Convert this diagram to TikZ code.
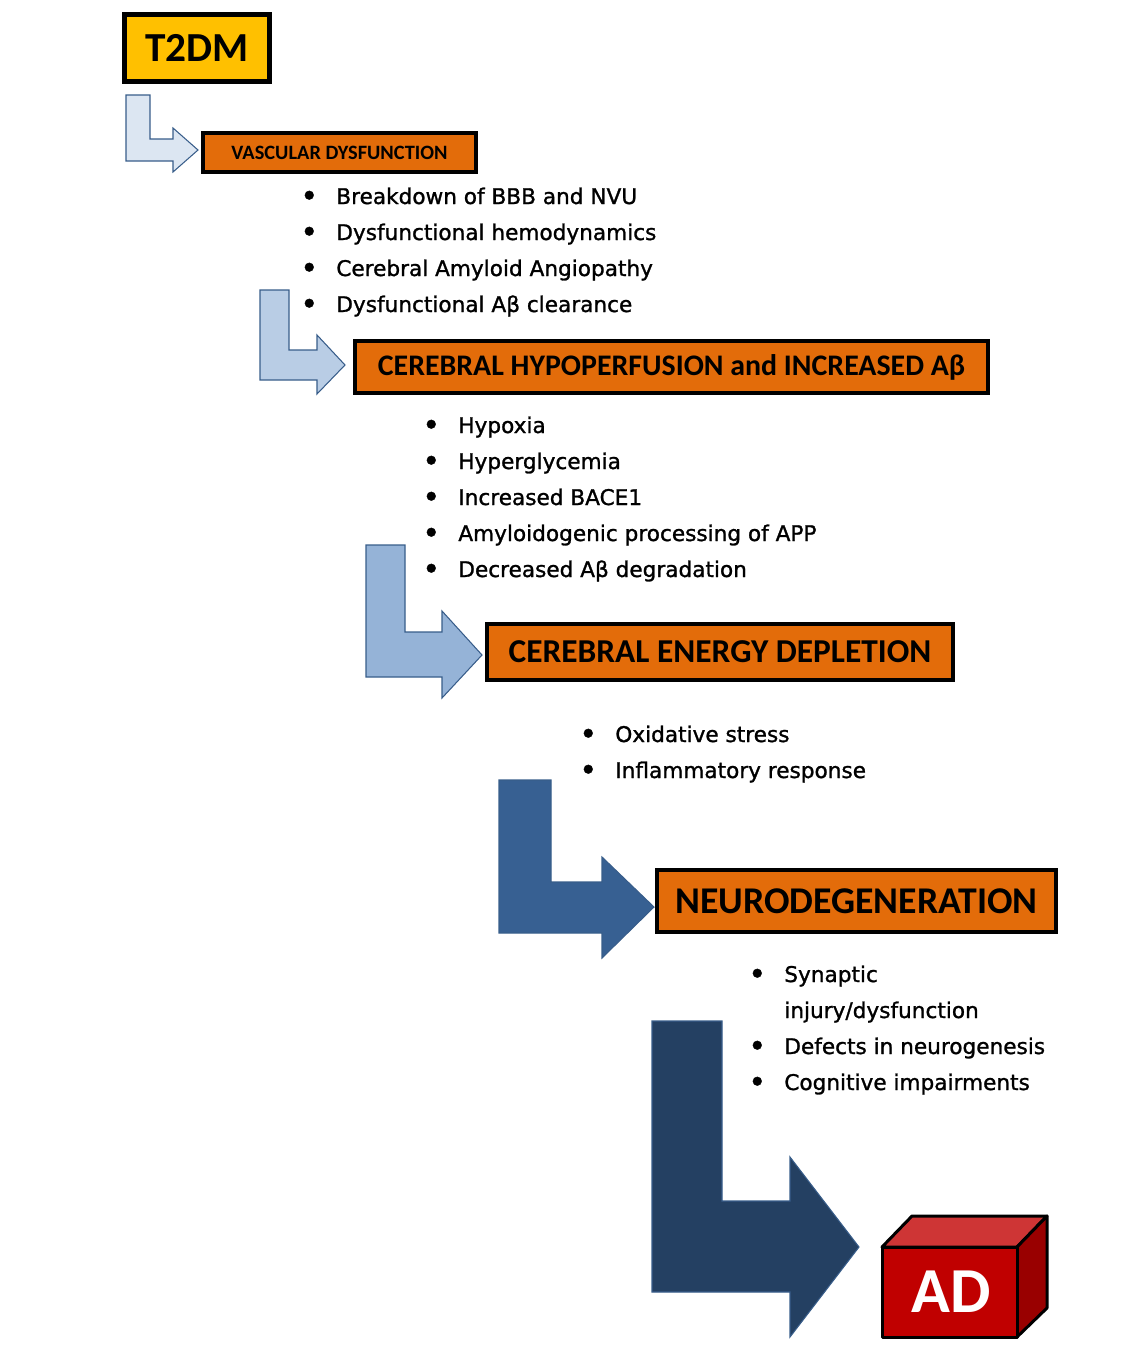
\documentclass[tikz,border=0pt]{standalone}
\usepackage{fontspec}
\setmainfont{Carlito}
\newfontfamily\itemfont[FakeBold=1.2]{DejaVu Sans}
\definecolor{boxorange}{HTML}{E36C0A}
\definecolor{boxyellow}{HTML}{FFC000}
\definecolor{arrowA}{HTML}{DCE6F2}
\definecolor{arrowB}{HTML}{B9CDE5}
\definecolor{arrowC}{HTML}{95B3D7}
\definecolor{arrowD}{HTML}{376092}
\definecolor{arrowE}{HTML}{244062}
\definecolor{arrowline}{HTML}{385D8A}
\definecolor{adfront}{HTML}{C00000}
\definecolor{adtop}{HTML}{CE3535}
\definecolor{adside}{HTML}{990000}
\begin{document}
\begin{tikzpicture}[x=0.02cm,y=-0.02cm]
\tikzstyle{Box} = [draw=black, fill=boxorange, line width=2.2pt, inner sep=0pt, font=\bfseries]
\tikzstyle{Item} = [anchor=base west, inner sep=0pt, font=\itemfont\fontsize{12.3}{15}\selectfont]
\tikzstyle{Bend} = [draw=arrowline, line width=0.6pt, line join=miter]
\useasboundingbox (0,0) rectangle (1145,1359);

% bent arrows
\draw[Bend, fill=arrowA] (126,95) -- (150,95) -- (150,139) -- (173,139) -- (173,128) -- (198,150) -- (173,172) -- (173,161) -- (126,161) -- cycle;
\draw[Bend, fill=arrowB] (260,290) -- (289,290) -- (289,350) -- (317,350) -- (317,335) -- (345,365) -- (317,394) -- (317,380) -- (260,380) -- cycle;
\draw[Bend, fill=arrowC] (366,545) -- (405,545) -- (405,632) -- (442,632) -- (442,611) -- (482,655) -- (442,698) -- (442,677) -- (366,677) -- cycle;
\draw[Bend, fill=arrowD] (499,780) -- (551,780) -- (551,882) -- (602,882) -- (602,857) -- (654,907) -- (602,958) -- (602,933) -- (499,933) -- cycle;
\draw[Bend, fill=arrowE] (652,1021) -- (722,1021) -- (722,1201) -- (790,1201) -- (790,1157) -- (859,1247) -- (790,1337) -- (790,1292) -- (652,1292) -- cycle;

% boxes
\node (t2dm) at (197,48) [Box, fill=boxyellow, line width=2.8pt, minimum width=2.9cm, minimum height=1.34cm, font=\bfseries\fontsize{23.5}{26}\selectfont] {T2DM};
\node (vasc) at (339.5,152.5) [Box, line width=2pt, minimum width=5.47cm, minimum height=0.79cm, font=\bfseries\fontsize{11.6}{14}\selectfont] {VASCULAR DYSFUNCTION};
\node (hypo) at (671.5,367) [Box, minimum width=12.66cm, minimum height=1.04cm, font=\bfseries\fontsize{17}{20}\selectfont] {\raisebox{-1.5pt}{CEREBRAL HYPOPERFUSION and INCREASED Aβ}};
\node (energy) at (720,652) [Box, minimum width=9.32cm, minimum height=1.12cm, font=\bfseries\fontsize{19}{22}\selectfont] {\raisebox{-1pt}{CEREBRAL ENERGY DEPLETION}};
\node (neuro) at (856.5,901) [Box, minimum width=7.98cm, minimum height=1.24cm, font=\bfseries\fontsize{21.5}{24}\selectfont] {\raisebox{-1pt}{NEURODEGENERATION}};

% AD block
\draw[line width=1.7pt, line join=round, fill=adtop] (882,1247) -- (912,1216) -- (1047,1216) -- (1017,1247) -- cycle;
\draw[line width=1.7pt, line join=round, fill=adside] (1017,1247) -- (1047,1216) -- (1047,1308) -- (1017,1337) -- cycle;
\draw[line width=1.7pt, line join=round, fill=adfront] (882,1247) rectangle (1017,1337);
\node (ad) at (951,1292) [text=white, font=\bfseries\fontsize{36.5}{40}\selectfont] {AD};

% lists
\node (v1) at (300,204) [Item] {\makebox[0.72cm][l]{\raisebox{-1.4pt}{\scalebox{1.4}{•}}}Breakdown of BBB and NVU};
\node (v2) at (300,240) [Item] {\makebox[0.72cm][l]{\raisebox{-1.4pt}{\scalebox{1.4}{•}}}Dysfunctional hemodynamics};
\node (v3) at (300,276) [Item] {\makebox[0.72cm][l]{\raisebox{-1.4pt}{\scalebox{1.4}{•}}}Cerebral Amyloid Angiopathy};
\node (v4) at (300,312) [Item] {\makebox[0.72cm][l]{\raisebox{-1.4pt}{\scalebox{1.4}{•}}}Dysfunctional Aβ clearance};

\node (h1) at (422,433) [Item] {\makebox[0.72cm][l]{\raisebox{-1.4pt}{\scalebox{1.4}{•}}}Hypoxia};
\node (h2) at (422,469) [Item] {\makebox[0.72cm][l]{\raisebox{-1.4pt}{\scalebox{1.4}{•}}}Hyperglycemia};
\node (h3) at (422,505) [Item] {\makebox[0.72cm][l]{\raisebox{-1.4pt}{\scalebox{1.4}{•}}}Increased BACE1};
\node (h4) at (422,541) [Item] {\makebox[0.72cm][l]{\raisebox{-1.4pt}{\scalebox{1.4}{•}}}Amyloidogenic processing of APP};
\node (h5) at (422,577) [Item] {\makebox[0.72cm][l]{\raisebox{-1.4pt}{\scalebox{1.4}{•}}}Decreased Aβ degradation};

\node (e1) at (579,742) [Item] {\makebox[0.72cm][l]{\raisebox{-1.4pt}{\scalebox{1.4}{•}}}Oxidative stress};
\node (e2) at (579,778) [Item] {\makebox[0.72cm][l]{\raisebox{-1.4pt}{\scalebox{1.4}{•}}}Inflammatory response};

\node (n1) at (748,982) [Item] {\makebox[0.72cm][l]{\raisebox{-1.4pt}{\scalebox{1.4}{•}}}Synaptic};
\node (n1b) at (784,1018) [Item] {injury/dysfunction};
\node (n2) at (748,1054) [Item] {\makebox[0.72cm][l]{\raisebox{-1.4pt}{\scalebox{1.4}{•}}}Defects in neurogenesis};
\node (n3) at (748,1090) [Item] {\makebox[0.72cm][l]{\raisebox{-1.4pt}{\scalebox{1.4}{•}}}Cognitive impairments};
\end{tikzpicture}
\end{document}
